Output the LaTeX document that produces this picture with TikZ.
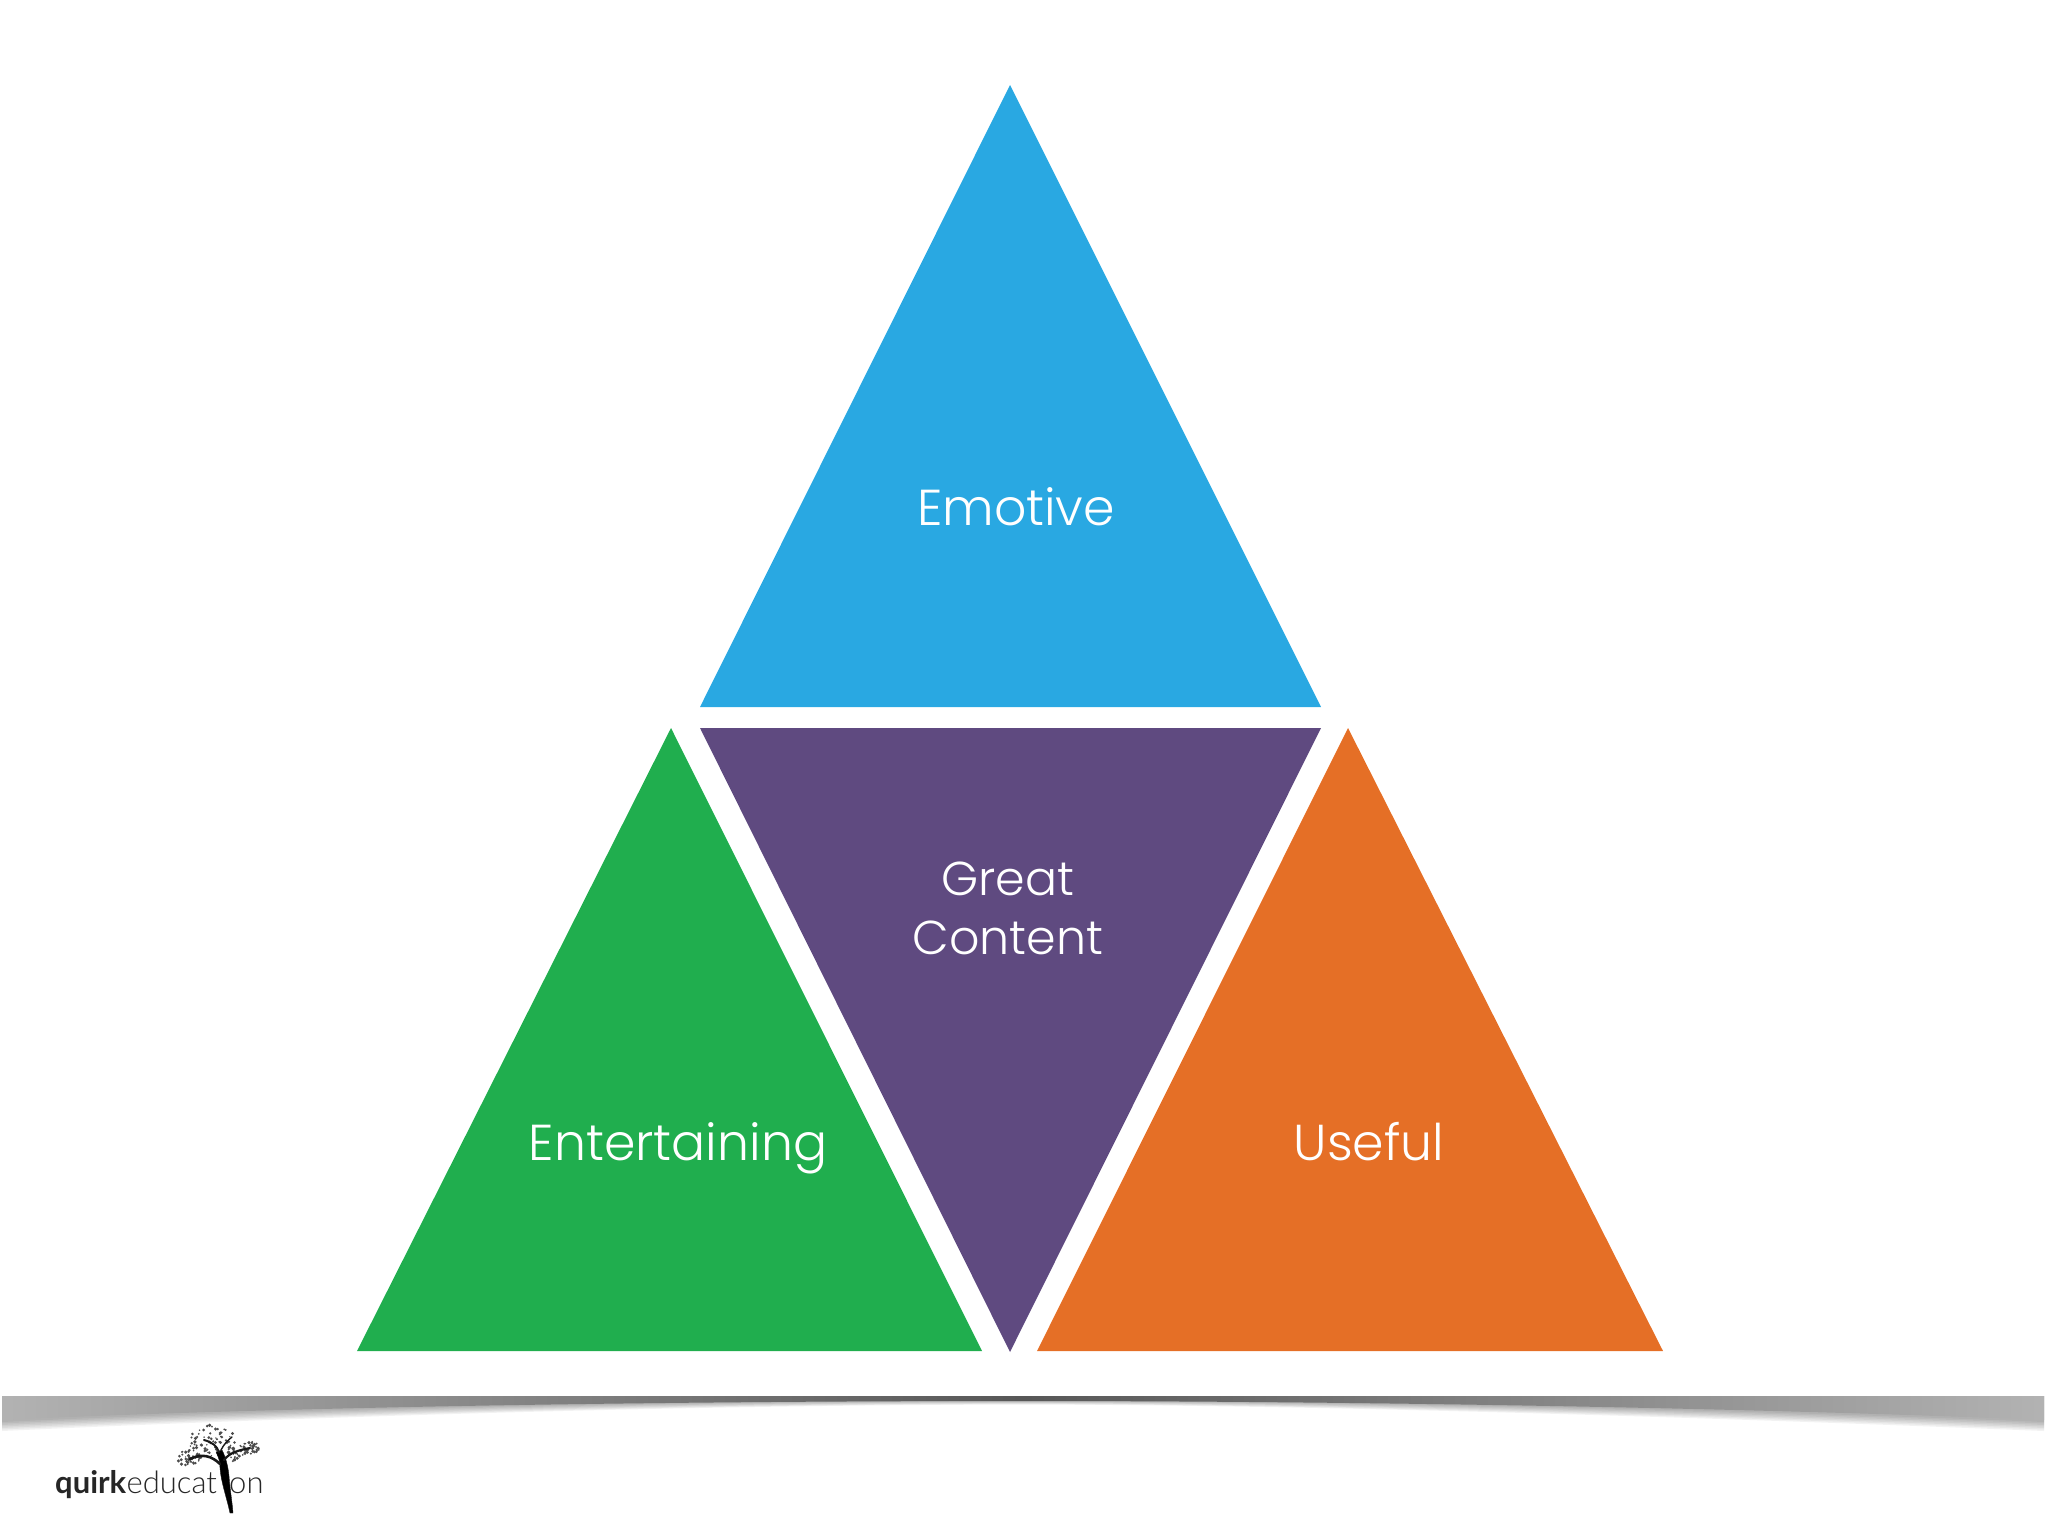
\documentclass[tikz,border=0pt]{standalone}
\usepackage{fontspec}
\setmainfont{Poppins}[UprightFont={* Light},BoldFont={* SemiBold}]
\newfontfamily\logolight{Lato Light}
\newfontfamily\logobold{Lato Bold}
\definecolor{cblue}{HTML}{29A8E2}
\definecolor{cpurple}{HTML}{5F4A80}
\definecolor{cgreen}{HTML}{20AE4E}
\definecolor{corange}{HTML}{E56F26}
\tikzset{
  tri/.style={line join=round},
  lab/.style={text=white,font=\fontsize{50.5}{59}\selectfont,align=center,inner sep=0pt},
  labc/.style={text=white,font=\fontsize{47.5}{59}\selectfont,align=center,inner sep=0pt},
  logoq/.style={text=black!85,inner sep=0pt,anchor=base west},
  limb/.style={draw=black!90,line cap=round,line join=round},
  leaf/.style={fill=black!70,draw=none},
  haze/.style={fill=black,fill opacity=0.05,draw=none}
}
\begin{document}
\begin{tikzpicture}[x=1pt,y=-1pt]
\useasboundingbox (0,0) rectangle (2048,1536);
% triangles
\fill[cblue,tri] (1010,85) -- (1321,707) -- (700,707) -- cycle;
\fill[cpurple,tri] (700,728) -- (1321,728) -- (1010,1352) -- cycle;
\fill[cgreen,tri] (671,728) -- (982,1351) -- (357,1351) -- cycle;
\fill[corange,tri] (1348,728) -- (1663,1351) -- (1037,1351) -- cycle;
% labels
\node[lab] (emotive) at (1016,507) {Emotive};
\node[labc] (great) at (1008,908) {Great\\Content};
\node[lab] (entertaining) at (678,1148) {Entertaining};
\node[lab] (useful) at (1369,1142) {Useful};
% shadow band: soft lower edge built from thin translucent layers
\foreach \d in {0,1.5,3,4.5,6,7.5,9}{
  \fill[haze] (2,1396) -- (2044,1396) -- (2044,1422+\d)
    .. controls (1700,1408+\d) and (1300,1401+0.4*\d) .. (1023,1401+0.4*\d)
    .. controls (700,1401+0.4*\d) and (300,1408+\d) .. (2,1422+\d) -- cycle;
}
\shade[left color=black!30,right color=black!30,middle color=black!66]
  (2,1396) -- (2044,1396) -- (2044,1420)
  .. controls (1700,1406) and (1300,1401) .. (1023,1401)
  .. controls (700,1401) and (300,1406) .. (2,1420) -- cycle;
% logo
\node[logoq] (quirk) at (55,1493) {\fontsize{31}{36}\selectfont\logobold quirk};
\node[logoq] (educat) at (quirk.base east) {\fontsize{31}{36}\selectfont\logolight educat};
\node[logoq] (on) at (229,1493) {\fontsize{31}{36}\selectfont\logolight on};
% tree
\pgfmathsetseed{4242}
\foreach \cx/\cy/\rx/\ry/\n in {213/1441/24/16/70,189/1458/12/8/40,250/1448/11/7/36,232/1455/14/7/30}{
  \foreach \k in {1,...,\n}{
    \pgfmathsetmacro{\ang}{rnd*360}
    \pgfmathsetmacro{\rad}{sqrt(rnd)}
    \pgfmathsetmacro{\sz}{0.7+rnd*1.1}
    \fill[leaf] ({\cx+\rx*\rad*cos(\ang)},{\cy+\ry*\rad*sin(\ang)}) circle (\sz pt);
  }
}
\fill[limb] (230,1513) .. controls (226,1495) and (221,1482) .. (220,1468)
  .. controls (220,1462) and (219,1458) .. (216,1452) -- (222,1450)
  .. controls (226,1458) and (228,1466) .. (229,1476)
  .. controls (230,1490) and (232,1500) .. (233,1513) -- cycle;
\draw[limb,line width=2.6pt] (220,1464) .. controls (212,1456) and (202,1453) .. (190,1459);
\draw[limb,line width=2.2pt] (224,1460) .. controls (230,1452) and (240,1450) .. (250,1448);
\draw[limb,line width=2pt] (219,1452) .. controls (217,1446) and (212,1442) .. (204,1440);
\draw[limb,line width=1.4pt] (221,1450) .. controls (224,1444) and (228,1440) .. (232,1437);
\end{tikzpicture}
\end{document}
